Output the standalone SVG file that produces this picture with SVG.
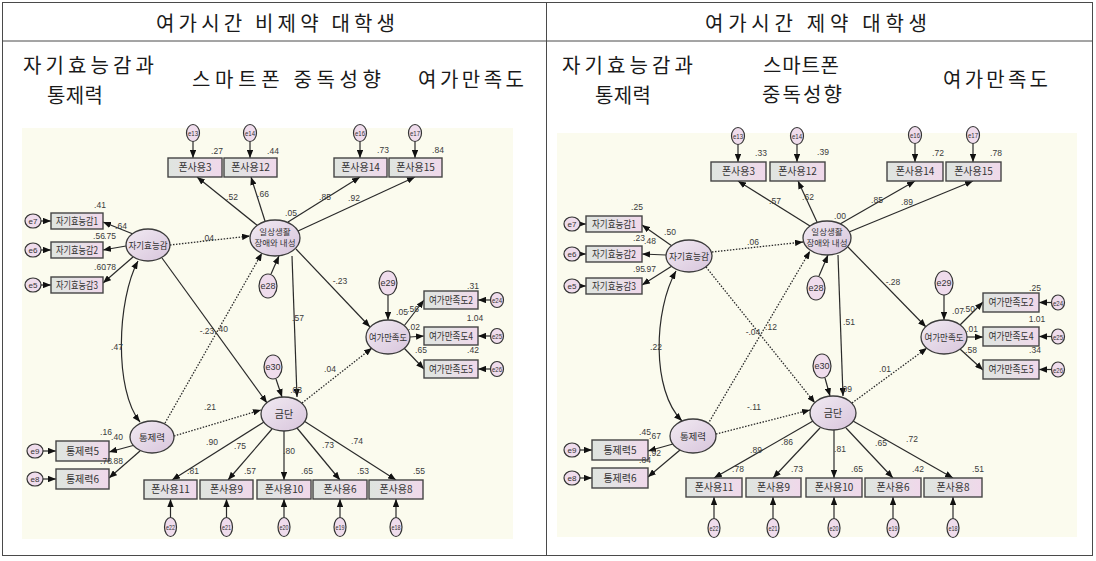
<svg xmlns="http://www.w3.org/2000/svg" width="1096" height="561" viewBox="0 0 1096 561">
<style>
.tb{fill:none;stroke:#4a4a4a;stroke-width:1}
.hd{font-family:"Noto Sans CJK KR","Noto Sans CJK SC",sans-serif;font-size:20px;fill:#1a1a1a}
.bg{fill:#fbfbee}
.box{fill:url(#gb);stroke:#454545;stroke-width:1.4}
.lat{fill:url(#gl);stroke:#3c3c3c;stroke-width:1.3}
.err{fill:#efdcec;stroke:#333;stroke-width:1.2}
.bt{font-family:"Noto Sans CJK KR",sans-serif;font-size:10px;fill:#333;text-anchor:middle}
.lt{font-family:"Noto Sans CJK KR",sans-serif;font-size:9.5px;fill:#333;text-anchor:middle}
.et{font-family:"Liberation Sans",sans-serif;font-size:8px;fill:#333;text-anchor:middle}
.n{font-family:"Liberation Sans",sans-serif;font-size:8.5px;fill:#3a3a3a;text-anchor:middle}
.s{fill:none;stroke:#2a2a2a;stroke-width:1.2;marker-end:url(#ah)}
.d{fill:none;stroke:#2a2a2a;stroke-width:1.3;stroke-dasharray:1.5 1.5;marker-end:url(#ah)}
.c{fill:none;stroke:#2a2a2a;stroke-width:1.2;marker-end:url(#ah);marker-start:url(#ah)}
</style>
<defs>
<linearGradient id="gb" x1="0" y1="0" x2="1" y2="0"><stop offset="0" stop-color="#dfe5df"/><stop offset="0.5" stop-color="#e6e0e6"/><stop offset="1" stop-color="#f0d8ea"/></linearGradient>
<linearGradient id="gl" x1="0" y1="0" x2="1" y2="1"><stop offset="0" stop-color="#f1eaf2"/><stop offset="1" stop-color="#d8c5dc"/></linearGradient>
<marker id="ah" viewBox="0 0 10 8" refX="10" refY="4" markerWidth="8" markerHeight="6.4" markerUnits="userSpaceOnUse" orient="auto-start-reverse"><path d="M0,0 L10,4 L0,8 z" fill="#111"/></marker>
</defs>
<rect width="1096" height="561" fill="#ffffff"/>

<g id="table">
<rect class="tb" x="2.5" y="2.5" width="1090" height="553"/>
<line class="tb" x1="2.5" y1="41" x2="1092.5" y2="41"/>
<line class="tb" x1="546.5" y1="2.5" x2="546.5" y2="555.5"/>
<text class="hd" x="156" y="31" textLength="239" lengthAdjust="spacing">여가시간 비제약 대학생</text>
<text class="hd" x="705" y="31" textLength="222" lengthAdjust="spacing">여가시간 제약 대학생</text>
<text class="hd" x="23" y="73" textLength="131" lengthAdjust="spacing">자기효능감과</text>
<text class="hd" x="47" y="103" textLength="56" lengthAdjust="spacing">통제력</text>
<text class="hd" x="192" y="87" textLength="189" lengthAdjust="spacing">스마트폰 중독성향</text>
<text class="hd" x="418" y="87" textLength="106" lengthAdjust="spacing">여가만족도</text>
<text class="hd" x="562" y="73" textLength="131" lengthAdjust="spacing">자기효능감과</text>
<text class="hd" x="595" y="103" textLength="56" lengthAdjust="spacing">통제력</text>
<text class="hd" x="763" y="73" textLength="76" lengthAdjust="spacing">스마트폰</text>
<text class="hd" x="762" y="102" textLength="80" lengthAdjust="spacing">중독성향</text>
<text class="hd" x="943" y="87" textLength="105" lengthAdjust="spacing">여가만족도</text>
</g>

<!-- LEFT DIAGRAM -->
<g id="L-diagram">
<rect class="bg" x="22" y="128" width="491" height="411"/>
<g id="L-connectors">
<path class="s" d="M133,234 L103,222"/>
<path class="s" d="M126,246 L103,250"/>
<path class="s" d="M133,257 L103,283"/>
<path class="s" d="M135,445 L109,452"/>
<path class="s" d="M140,451 L109,478"/>
<path class="s" d="M41,221 L51,221"/>
<path class="s" d="M41,250 L51,250"/>
<path class="s" d="M41,285 L51,285"/>
<path class="s" d="M43,451 L56,451"/>
<path class="s" d="M43,479 L56,479"/>
<path class="s" d="M193,141.5 L193,158"/>
<path class="s" d="M250,141.5 L250,158"/>
<path class="s" d="M360,141.5 L360,158"/>
<path class="s" d="M415,141.5 L415,158"/>
<path class="s" d="M258,226 L197,177"/>
<path class="s" d="M265,221 L251,177"/>
<path class="s" d="M288,222 L360,177"/>
<path class="s" d="M298,231 L415,177"/>
<path class="s" d="M271,274 L279,256"/>
<path class="d" d="M170,245 L250,236"/>
<path class="d" d="M165,423 L262,253"/>
<path class="s" d="M162,258 L267,403"/>
<path class="d" d="M174,436 L261,410"/>
<path class="s" d="M292,256 L297,397"/>
<path class="s" d="M296,249 L370,327"/>
<path class="d" d="M302,403 L372,348"/>
<path class="s" d="M388,295 L388,320"/>
<path class="s" d="M276,379 L282,397"/>
<path class="s" d="M404,326 L424,300"/>
<path class="s" d="M410,337 L424,336"/>
<path class="s" d="M404,348 L424,369"/>
<path class="s" d="M490.5,300 L478,300"/>
<path class="s" d="M490.5,336 L478,336"/>
<path class="s" d="M490.5,369 L478,369"/>
<path class="s" d="M264,422 L172,480"/>
<path class="s" d="M272,429 L228,480"/>
<path class="s" d="M284,431 L284,480"/>
<path class="s" d="M297,428 L340,480"/>
<path class="s" d="M304,421 L396,480"/>
<path class="s" d="M170.5,517.5 L170.5,499"/>
<path class="s" d="M226.5,517.5 L226.5,499"/>
<path class="s" d="M284,517.5 L284,499"/>
<path class="s" d="M340,517.5 L340,499"/>
<path class="s" d="M396,517.5 L396,499"/>
<path class="c" d="M138,261 C117,300 114,390 140,422"/>
</g>
<g id="L-e13"><ellipse class="err" cx="193" cy="133" rx="6.5" ry="8.5"/><text class="et" x="193" y="136" textLength="10" lengthAdjust="spacingAndGlyphs">e13</text></g>
<g id="L-e14"><ellipse class="err" cx="250" cy="133" rx="6.5" ry="8.5"/><text class="et" x="250" y="136" textLength="10" lengthAdjust="spacingAndGlyphs">e14</text></g>
<g id="L-e16"><ellipse class="err" cx="360" cy="133" rx="6.5" ry="8.5"/><text class="et" x="360" y="136" textLength="10" lengthAdjust="spacingAndGlyphs">e16</text></g>
<g id="L-e17"><ellipse class="err" cx="415" cy="133" rx="6.5" ry="8.5"/><text class="et" x="415" y="136" textLength="10" lengthAdjust="spacingAndGlyphs">e17</text></g>
<g id="L-p3"><rect class="box" x="168" y="158" width="54" height="19"/><text class="bt" x="195" y="171">폰사용3</text></g>
<g id="L-p12"><rect class="box" x="224" y="158" width="53" height="19"/><text class="bt" x="250.5" y="171">폰사용12</text></g>
<g id="L-p14"><rect class="box" x="334" y="158" width="53" height="19"/><text class="bt" x="360.5" y="171">폰사용14</text></g>
<g id="L-p15"><rect class="box" x="389" y="158" width="53" height="19"/><text class="bt" x="415.5" y="171">폰사용15</text></g>
<g id="L-e7"><ellipse class="err" cx="33" cy="221" rx="8" ry="7"/><text class="et" x="33" y="224">e7</text></g>
<g id="L-e6"><ellipse class="err" cx="33" cy="250" rx="8" ry="7"/><text class="et" x="33" y="253">e6</text></g>
<g id="L-e5"><ellipse class="err" cx="33" cy="285" rx="8" ry="7"/><text class="et" x="33" y="288">e5</text></g>
<g id="L-se1"><rect class="box" x="51" y="213" width="52" height="16"/><text class="bt" x="77" y="224.5" textLength="42" lengthAdjust="spacingAndGlyphs">자기효능감1</text></g>
<g id="L-se2"><rect class="box" x="51" y="242" width="52" height="16"/><text class="bt" x="77" y="253.5" textLength="42" lengthAdjust="spacingAndGlyphs">자기효능감2</text></g>
<g id="L-se3"><rect class="box" x="51" y="277" width="52" height="16"/><text class="bt" x="77" y="288.5" textLength="42" lengthAdjust="spacingAndGlyphs">자기효능감3</text></g>
<g id="L-self"><ellipse class="lat" cx="148" cy="245" rx="22" ry="16"/><text class="lt" x="148" y="248.5" textLength="39" lengthAdjust="spacingAndGlyphs">자기효능감</text></g>
<g id="L-daily"><ellipse class="lat" cx="275" cy="238" rx="25" ry="18"/><text class="lt" x="275" y="235" style="font-size:8.5px">일상생활</text><text class="lt" x="275" y="246" style="font-size:8.5px">장애와 내성</text></g>
<g id="L-e28"><ellipse class="err" cx="268" cy="286" rx="9" ry="12"/><text class="et" x="268" y="289" style="font-size:9px">e28</text></g>
<g id="L-e29"><ellipse class="err" cx="388" cy="283" rx="9" ry="12"/><text class="et" x="388" y="286" style="font-size:9px">e29</text></g>
<g id="L-e30"><ellipse class="err" cx="273" cy="367" rx="9" ry="12"/><text class="et" x="273" y="370" style="font-size:9px">e30</text></g>
<g id="L-leisure"><ellipse class="lat" cx="388" cy="337" rx="22" ry="17"/><text class="lt" x="388" y="340.5" textLength="38" lengthAdjust="spacingAndGlyphs">여가만족도</text></g>
<g id="L-ls2"><rect class="box" x="424" y="291" width="54" height="18"/><text class="bt" x="451" y="303.5" textLength="44" lengthAdjust="spacingAndGlyphs">여가만족도2</text></g>
<g id="L-ls4"><rect class="box" x="424" y="327" width="54" height="18"/><text class="bt" x="451" y="339.5" textLength="44" lengthAdjust="spacingAndGlyphs">여가만족도4</text></g>
<g id="L-ls5"><rect class="box" x="424" y="360" width="54" height="18"/><text class="bt" x="451" y="372.5" textLength="44" lengthAdjust="spacingAndGlyphs">여가만족도5</text></g>
<g id="L-e24"><ellipse class="err" cx="497" cy="300" rx="6.5" ry="7.5"/><text class="et" x="497" y="303" textLength="10" lengthAdjust="spacingAndGlyphs">e24</text></g>
<g id="L-e25"><ellipse class="err" cx="497" cy="336" rx="6.5" ry="7.5"/><text class="et" x="497" y="339" textLength="10" lengthAdjust="spacingAndGlyphs">e25</text></g>
<g id="L-e26"><ellipse class="err" cx="497" cy="369" rx="6.5" ry="7.5"/><text class="et" x="497" y="372" textLength="10" lengthAdjust="spacingAndGlyphs">e26</text></g>
<g id="L-ctrl"><ellipse class="lat" cx="152" cy="437" rx="22" ry="16"/><text class="lt" x="152" y="440.5">통제력</text></g>
<g id="L-c5"><rect class="box" x="56" y="441" width="53" height="20"/><text class="bt" x="82.5" y="454.5">통제력5</text></g>
<g id="L-c6"><rect class="box" x="56" y="469" width="53" height="20"/><text class="bt" x="82.5" y="482.5">통제력6</text></g>
<g id="L-e9"><ellipse class="err" cx="35" cy="451" rx="8" ry="7"/><text class="et" x="35" y="454">e9</text></g>
<g id="L-e8"><ellipse class="err" cx="35" cy="479" rx="8" ry="7"/><text class="et" x="35" y="482">e8</text></g>
<g id="L-with"><ellipse class="lat" cx="284" cy="414" rx="23" ry="17"/><text class="lt" x="284" y="418" style="font-size:10px">금단</text></g>
<g id="L-p11"><rect class="box" x="144" y="480" width="53" height="19"/><text class="bt" x="170.5" y="493">폰사용11</text></g>
<g id="L-p9"><rect class="box" x="200" y="480" width="53" height="19"/><text class="bt" x="226.5" y="493">폰사용9</text></g>
<g id="L-p10"><rect class="box" x="257" y="480" width="54" height="19"/><text class="bt" x="284" y="493">폰사용10</text></g>
<g id="L-p6"><rect class="box" x="313" y="480" width="54" height="19"/><text class="bt" x="340" y="493">폰사용6</text></g>
<g id="L-p8"><rect class="box" x="369" y="480" width="54" height="19"/><text class="bt" x="396" y="493">폰사용8</text></g>
<g id="L-e22"><ellipse class="err" cx="170.5" cy="527" rx="6" ry="9.5"/><text class="et" x="170.5" y="530" textLength="9" lengthAdjust="spacingAndGlyphs">e22</text></g>
<g id="L-e21"><ellipse class="err" cx="226.5" cy="527" rx="6" ry="9.5"/><text class="et" x="226.5" y="530" textLength="9" lengthAdjust="spacingAndGlyphs">e21</text></g>
<g id="L-e20"><ellipse class="err" cx="284" cy="527" rx="6" ry="9.5"/><text class="et" x="284" y="530" textLength="9" lengthAdjust="spacingAndGlyphs">e20</text></g>
<g id="L-e19"><ellipse class="err" cx="340" cy="527" rx="6" ry="9.5"/><text class="et" x="340" y="530" textLength="9" lengthAdjust="spacingAndGlyphs">e19</text></g>
<g id="L-e18"><ellipse class="err" cx="396" cy="527" rx="6" ry="9.5"/><text class="et" x="396" y="530" textLength="9" lengthAdjust="spacingAndGlyphs">e18</text></g>
<g id="L-numbers">
<text class="n" x="217" y="154">.27</text><text class="n" x="273" y="154">.44</text><text class="n" x="383" y="153">.73</text><text class="n" x="438" y="153">.84</text>
<text class="n" x="100" y="208">.41</text><text class="n" x="121" y="229">.64</text><text class="n" x="99" y="239">.56</text><text class="n" x="110" y="239">.75</text><text class="n" x="100" y="270">.60</text><text class="n" x="110" y="270">.78</text>
<text class="n" x="208" y="241">.04</text><text class="n" x="291" y="216">.05</text>
<text class="n" x="232" y="200">.52</text><text class="n" x="263" y="197">.66</text><text class="n" x="325" y="200">.85</text><text class="n" x="354" y="201">.92</text>
<text class="n" x="340" y="284">-.23</text><text class="n" x="298" y="321">.57</text><text class="n" x="117" y="350">.47</text>
<text class="n" x="207" y="334">-.23</text><text class="n" x="222" y="332">.40</text>
<text class="n" x="210" y="410">.21</text>
<text class="n" x="106" y="435">.16</text><text class="n" x="117" y="440">.40</text><text class="n" x="106" y="464">.78</text><text class="n" x="117" y="464">.88</text>
<text class="n" x="212" y="445">.90</text><text class="n" x="240" y="449">.75</text><text class="n" x="289" y="454">.80</text><text class="n" x="328" y="448">.73</text><text class="n" x="357" y="444">.74</text>
<text class="n" x="193" y="474">.81</text><text class="n" x="250" y="474">.57</text><text class="n" x="307" y="474">.65</text><text class="n" x="363" y="474">.53</text><text class="n" x="419" y="474">.55</text>
<text class="n" x="473" y="289">.31</text><text class="n" x="402" y="315">.05</text><text class="n" x="413" y="312">.56</text><text class="n" x="414" y="330">.02</text><text class="n" x="475" y="321">1.04</text><text class="n" x="421" y="353">.65</text><text class="n" x="473" y="353">.42</text>
<text class="n" x="330" y="372">.04</text><text class="n" x="302" y="393" style="text-anchor:end">.03</text>
</g>
</g>

<!-- RIGHT DIAGRAM -->
<g id="R-diagram">
<rect class="bg" x="557" y="133" width="520" height="404"/>
<g id="R-connectors">
<path class="s" d="M672,246 L642,225"/>
<path class="s" d="M666,255 L642,254"/>
<path class="s" d="M672,266 L642,285"/>
<path class="s" d="M673,444 L648,451"/>
<path class="s" d="M680,450 L648,477"/>
<path class="s" d="M580,224 L586,224"/>
<path class="s" d="M580,254 L586,254"/>
<path class="s" d="M580,286 L586,286"/>
<path class="s" d="M580,450 L592,450"/>
<path class="s" d="M580,478 L592,478"/>
<path class="s" d="M738,144.5 L738,162"/>
<path class="s" d="M797,144.5 L797,162"/>
<path class="s" d="M915,143.5 L915,162"/>
<path class="s" d="M973,143.5 L973,162"/>
<path class="s" d="M810,226 L738,181"/>
<path class="s" d="M817,222 L798,181"/>
<path class="s" d="M840,224 L915,181"/>
<path class="s" d="M849,232 L973,181"/>
<path class="s" d="M819,276 L828,255"/>
<path class="d" d="M712,252 L803,242"/>
<path class="d" d="M706,267 L815,403"/>
<path class="d" d="M708,424 L810,251"/>
<path class="d" d="M716,434 L810,410"/>
<path class="s" d="M838,255 L843,396"/>
<path class="s" d="M848,247 L926,327"/>
<path class="d" d="M852,403 L927,348"/>
<path class="s" d="M944,295 L944,320"/>
<path class="s" d="M825,378 L830,396"/>
<path class="s" d="M960,325 L983,302"/>
<path class="s" d="M967,337 L983,337"/>
<path class="s" d="M960,349 L983,370"/>
<path class="s" d="M1051.5,302.5 L1039,302.5"/>
<path class="s" d="M1051.5,336.5 L1039,336.5"/>
<path class="s" d="M1051.5,369.5 L1039,369.5"/>
<path class="s" d="M813,421 L714,478"/>
<path class="s" d="M820,428 L773,478"/>
<path class="s" d="M834,430 L834,478"/>
<path class="s" d="M846,428 L893,478"/>
<path class="s" d="M853,421 L953,478"/>
<path class="s" d="M714,518.5 L714,497"/>
<path class="s" d="M773,518.5 L773,497"/>
<path class="s" d="M834,518.5 L834,497"/>
<path class="s" d="M893,518.5 L893,497"/>
<path class="s" d="M953,518.5 L953,497"/>
<path class="c" d="M676,271 C654,310 651,390 682,421"/>
</g>
<g id="R-e13"><ellipse class="err" cx="738" cy="136" rx="6.5" ry="8.5"/><text class="et" x="738" y="139" textLength="10" lengthAdjust="spacingAndGlyphs">e13</text></g>
<g id="R-e14"><ellipse class="err" cx="797" cy="136" rx="6.5" ry="8.5"/><text class="et" x="797" y="139" textLength="10" lengthAdjust="spacingAndGlyphs">e14</text></g>
<g id="R-e16"><ellipse class="err" cx="915" cy="135" rx="6.5" ry="8.5"/><text class="et" x="915" y="138" textLength="10" lengthAdjust="spacingAndGlyphs">e16</text></g>
<g id="R-e17"><ellipse class="err" cx="973" cy="135" rx="6.5" ry="8.5"/><text class="et" x="973" y="138" textLength="10" lengthAdjust="spacingAndGlyphs">e17</text></g>
<g id="R-p3"><rect class="box" x="711" y="162" width="55" height="19"/><text class="bt" x="738.5" y="175">폰사용3</text></g>
<g id="R-p12"><rect class="box" x="770" y="162" width="55" height="19"/><text class="bt" x="797.5" y="175">폰사용12</text></g>
<g id="R-p14"><rect class="box" x="887" y="162" width="56" height="19"/><text class="bt" x="915" y="175">폰사용14</text></g>
<g id="R-p15"><rect class="box" x="946" y="162" width="55" height="19"/><text class="bt" x="973.5" y="175">폰사용15</text></g>
<g id="R-e7"><ellipse class="err" cx="572" cy="224" rx="8" ry="7"/><text class="et" x="572" y="227">e7</text></g>
<g id="R-e6"><ellipse class="err" cx="572" cy="254" rx="8" ry="7"/><text class="et" x="572" y="257">e6</text></g>
<g id="R-e5"><ellipse class="err" cx="572" cy="286" rx="8" ry="7"/><text class="et" x="572" y="289">e5</text></g>
<g id="R-se1"><rect class="box" x="586" y="216" width="56" height="16"/><text class="bt" x="614" y="227.5" textLength="44" lengthAdjust="spacingAndGlyphs">자기효능감1</text></g>
<g id="R-se2"><rect class="box" x="586" y="246" width="56" height="16"/><text class="bt" x="614" y="257.5" textLength="44" lengthAdjust="spacingAndGlyphs">자기효능감2</text></g>
<g id="R-se3"><rect class="box" x="586" y="278" width="56" height="16"/><text class="bt" x="614" y="289.5" textLength="44" lengthAdjust="spacingAndGlyphs">자기효능감3</text></g>
<g id="R-self"><ellipse class="lat" cx="689" cy="256" rx="23" ry="16"/><text class="lt" x="689" y="259.5" textLength="40" lengthAdjust="spacingAndGlyphs">자기효능감</text></g>
<g id="R-daily"><ellipse class="lat" cx="827" cy="238" rx="24" ry="17"/><text class="lt" x="827" y="235" style="font-size:8.5px">일상생활</text><text class="lt" x="827" y="246" style="font-size:8.5px">장애와 내성</text></g>
<g id="R-e28"><ellipse class="err" cx="816" cy="288" rx="9" ry="12"/><text class="et" x="816" y="291" style="font-size:9px">e28</text></g>
<g id="R-e29"><ellipse class="err" cx="944" cy="283" rx="9" ry="12"/><text class="et" x="944" y="286" style="font-size:9px">e29</text></g>
<g id="R-e30"><ellipse class="err" cx="822" cy="366" rx="9" ry="12"/><text class="et" x="822" y="369" style="font-size:9px">e30</text></g>
<g id="R-leisure"><ellipse class="lat" cx="944" cy="337" rx="23" ry="17"/><text class="lt" x="944" y="340.5" textLength="39" lengthAdjust="spacingAndGlyphs">여가만족도</text></g>
<g id="R-ls2"><rect class="box" x="983" y="293" width="56" height="19"/><text class="bt" x="1011" y="306" textLength="45" lengthAdjust="spacingAndGlyphs">여가만족도2</text></g>
<g id="R-ls4"><rect class="box" x="983" y="327" width="56" height="19"/><text class="bt" x="1011" y="340" textLength="45" lengthAdjust="spacingAndGlyphs">여가만족도4</text></g>
<g id="R-ls5"><rect class="box" x="983" y="360" width="56" height="19"/><text class="bt" x="1011" y="373" textLength="45" lengthAdjust="spacingAndGlyphs">여가만족도5</text></g>
<g id="R-e24"><ellipse class="err" cx="1058" cy="302.5" rx="6.5" ry="7.5"/><text class="et" x="1058" y="305.5" textLength="10" lengthAdjust="spacingAndGlyphs">e24</text></g>
<g id="R-e25"><ellipse class="err" cx="1058" cy="336.5" rx="6.5" ry="7.5"/><text class="et" x="1058" y="339.5" textLength="10" lengthAdjust="spacingAndGlyphs">e25</text></g>
<g id="R-e26"><ellipse class="err" cx="1058" cy="369.5" rx="6.5" ry="7.5"/><text class="et" x="1058" y="372.5" textLength="10" lengthAdjust="spacingAndGlyphs">e26</text></g>
<g id="R-ctrl"><ellipse class="lat" cx="693" cy="436" rx="23" ry="17"/><text class="lt" x="693" y="439.5">통제력</text></g>
<g id="R-c5"><rect class="box" x="592" y="440" width="56" height="20"/><text class="bt" x="620" y="453.5">통제력5</text></g>
<g id="R-c6"><rect class="box" x="592" y="468" width="56" height="20"/><text class="bt" x="620" y="481.5">통제력6</text></g>
<g id="R-e9"><ellipse class="err" cx="572" cy="450" rx="8" ry="7"/><text class="et" x="572" y="453">e9</text></g>
<g id="R-e8"><ellipse class="err" cx="572" cy="478" rx="8" ry="7"/><text class="et" x="572" y="481">e8</text></g>
<g id="R-with"><ellipse class="lat" cx="833" cy="413" rx="23" ry="17"/><text class="lt" x="833" y="417" style="font-size:10px">금단</text></g>
<g id="R-p11"><rect class="box" x="686" y="478" width="56" height="19"/><text class="bt" x="714" y="491">폰사용11</text></g>
<g id="R-p9"><rect class="box" x="746" y="478" width="55" height="19"/><text class="bt" x="773.5" y="491">폰사용9</text></g>
<g id="R-p10"><rect class="box" x="806" y="478" width="56" height="19"/><text class="bt" x="834" y="491">폰사용10</text></g>
<g id="R-p6"><rect class="box" x="865" y="478" width="56" height="19"/><text class="bt" x="893" y="491">폰사용6</text></g>
<g id="R-p8"><rect class="box" x="924" y="478" width="58" height="19"/><text class="bt" x="953" y="491">폰사용8</text></g>
<g id="R-e22"><ellipse class="err" cx="714" cy="528" rx="6" ry="9.5"/><text class="et" x="714" y="531" textLength="9" lengthAdjust="spacingAndGlyphs">e22</text></g>
<g id="R-e21"><ellipse class="err" cx="773" cy="528" rx="6" ry="9.5"/><text class="et" x="773" y="531" textLength="9" lengthAdjust="spacingAndGlyphs">e21</text></g>
<g id="R-e20"><ellipse class="err" cx="834" cy="528" rx="6" ry="9.5"/><text class="et" x="834" y="531" textLength="9" lengthAdjust="spacingAndGlyphs">e20</text></g>
<g id="R-e19"><ellipse class="err" cx="893" cy="528" rx="6" ry="9.5"/><text class="et" x="893" y="531" textLength="9" lengthAdjust="spacingAndGlyphs">e19</text></g>
<g id="R-e18"><ellipse class="err" cx="953" cy="528" rx="6" ry="9.5"/><text class="et" x="953" y="531" textLength="9" lengthAdjust="spacingAndGlyphs">e18</text></g>
<g id="R-numbers">
<text class="n" x="761" y="156">.33</text><text class="n" x="823" y="155">.39</text><text class="n" x="938" y="156">.72</text><text class="n" x="996" y="156">.78</text>
<text class="n" x="637" y="210">.25</text><text class="n" x="670" y="235">.50</text><text class="n" x="639" y="241">.23</text><text class="n" x="650" y="244">.48</text><text class="n" x="639" y="272">.95</text><text class="n" x="650" y="272">.97</text>
<text class="n" x="753" y="245">.06</text><text class="n" x="840" y="219">.00</text>
<text class="n" x="775" y="204">.57</text><text class="n" x="808" y="200">.62</text><text class="n" x="877" y="203">.85</text><text class="n" x="907" y="205">.89</text>
<text class="n" x="893" y="285">-.28</text><text class="n" x="849" y="325">.51</text><text class="n" x="656" y="350">.22</text>
<text class="n" x="753" y="335">-.04</text><text class="n" x="771" y="330">.12</text>
<text class="n" x="754" y="410">-.11</text>
<text class="n" x="645" y="435">.45</text><text class="n" x="655" y="439">.67</text><text class="n" x="655" y="456">.92</text><text class="n" x="645" y="463">.84</text>
<text class="n" x="756" y="453">.89</text><text class="n" x="787" y="445">.86</text><text class="n" x="840" y="452">.81</text><text class="n" x="881" y="446">.65</text><text class="n" x="912" y="442">.72</text>
<text class="n" x="738" y="472">.78</text><text class="n" x="797" y="472">.73</text><text class="n" x="857" y="472">.65</text><text class="n" x="918" y="472">.42</text><text class="n" x="978" y="472">.51</text>
<text class="n" x="1035" y="291">.25</text><text class="n" x="958" y="314">.07</text><text class="n" x="969" y="312">.50</text><text class="n" x="972" y="332">.01</text><text class="n" x="1037" y="322">1.01</text><text class="n" x="971" y="353">.58</text><text class="n" x="1035" y="353">.34</text>
<text class="n" x="885" y="372">.01</text><text class="n" x="852" y="392" style="text-anchor:end">.09</text>
</g>
</g>
</svg>
